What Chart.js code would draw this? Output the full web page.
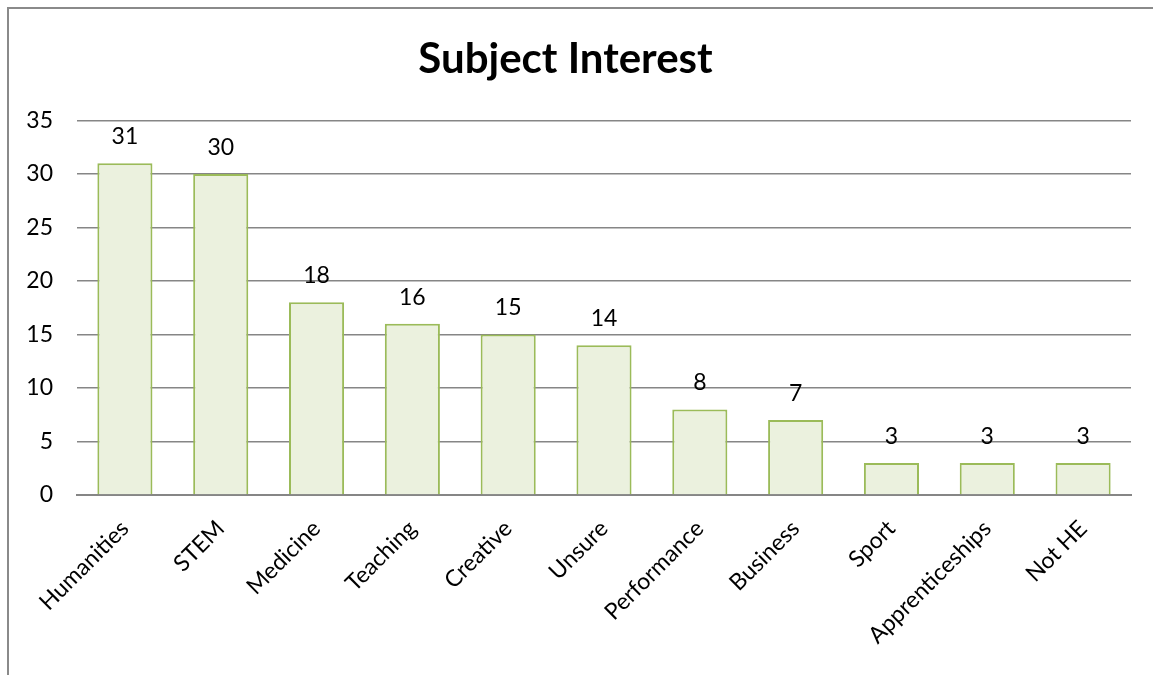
<!DOCTYPE html>
<html><head><meta charset="utf-8">
<script src="https://cdn.jsdelivr.net/npm/chart.js@4/dist/chart.umd.min.js"></script>
<style>html,body{margin:0;padding:0;background:#fff}#wrap{width:1153px;height:675px;position:relative}</style>
</head><body><div id="wrap"><canvas id="c" width="1153" height="675"></canvas></div>
<script>
const categories = ["Humanities","STEM","Medicine","Teaching","Creative","Unsure","Performance","Business","Sport","Apprenticeships","Not HE"];
const values = [31,30,18,16,15,14,8,7,3,3,3];
const yTicks = [0,5,10,15,20,25,30,35];
const FONT = "Lato, 'Open Sans', sans-serif";

const frame = {
  id:'frame',
  afterDraw(chart){
    const ctx = chart.ctx; ctx.save();
    ctx.strokeStyle = '#8a8a8a'; ctx.lineWidth = 2;
    ctx.beginPath(); ctx.moveTo(8,675); ctx.lineTo(8,8); ctx.lineTo(1153,8); ctx.stroke();
    ctx.restore();
  }
};
const valueLabels = {
  id:'valueLabels',
  afterDatasetsDraw(chart){
    const ctx = chart.ctx; ctx.save();
    ctx.font = "23px " + FONT; ctx.fillStyle = '#000'; ctx.textAlign='center'; ctx.textBaseline='alphabetic';
    chart.getDatasetMeta(0).data.forEach((bar,i)=>{
      ctx.fillText(String(values[i]), bar.x, bar.y - 19);
    });
    ctx.restore();
  }
};
new Chart(document.getElementById('c'), {
  type:'bar',
  data:{labels:categories, datasets:[{data:values, backgroundColor:'#EBF1DE', borderColor:'#9BBB59', borderWidth:2, categoryPercentage:1, barPercentage:0.575}]},
  options:{
    responsive:false, animation:false,
    layout:{padding:{left:0,right:22,top:0,bottom:0}},
    plugins:{
      legend:{display:false}, tooltip:{enabled:false},
      title:{display:true, text:'Subject Interest', color:'#000', font:{family:FONT, size:42, weight:'bold'}, padding:{top:34,bottom:36}}
    },
    scales:{
      y:{min:0,max:35,
        afterBuildTicks(s){ s.ticks = yTicks.map(v=>({value:v})); },
        afterFit(s){ s.width = 77; },
        ticks:{color:'#000', font:{family:FONT,size:23}, padding:24},
        grid:{color:'#868686', lineWidth:1.5, drawTicks:false},
        border:{display:false}
      },
      x:{
        afterFit(s){ s.height = 180; },
        ticks:{color:'#000', font:{family:FONT,size:23}, maxRotation:45, minRotation:45, padding:20, autoSkip:false},
        grid:{display:false, drawTicks:false},
        border:{display:true, color:'#868686', width:2}
      }
    }
  },
  plugins:[frame, valueLabels]
});
</script></body></html>
